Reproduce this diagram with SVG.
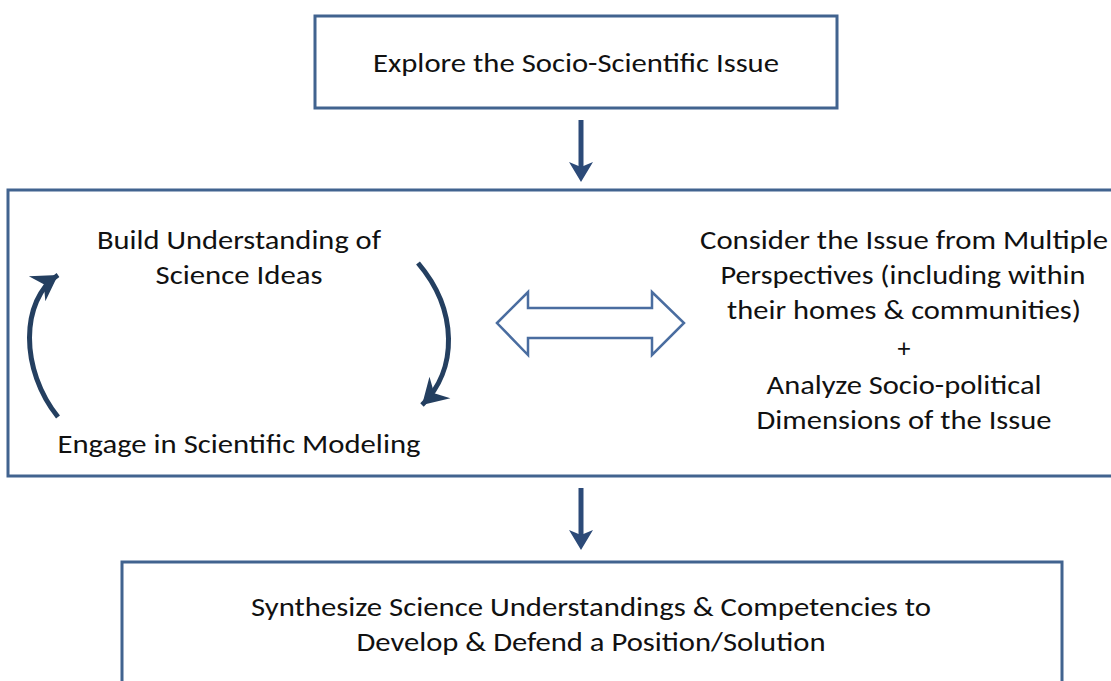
<svg xmlns="http://www.w3.org/2000/svg" width="1111" height="681" viewBox="0 0 1111 681">
<style>
.box{fill:#fff;stroke:#41638f;stroke-width:3}
.t{font-family:Carlito,Lato,"Liberation Sans",sans-serif;font-size:26px;fill:#111;text-anchor:middle}
.cyc{fill:none;stroke:#243f60;stroke-width:5}
.down{stroke:#2c4a78;stroke-width:5}
</style>
<defs>
<marker id="head" markerUnits="userSpaceOnUse" markerWidth="28" markerHeight="32" viewBox="0 0 28 32" refX="25" refY="16" orient="auto">
<path d="M0,1 L25,16 L0,31 L8,16 z" fill="#243f60"/>
</marker>
</defs>
<rect width="1111" height="681" fill="#fff"/>
<g id="node-explore">
<rect class="box" x="315" y="16" width="522" height="92"/>
<text class="t" x="576" y="72" textLength="406" lengthAdjust="spacingAndGlyphs">Explore the Socio-Scientific Issue</text>
</g>
<g id="node-middle">
<rect class="box" x="8" y="190" width="1120" height="286"/>
</g>
<g id="node-build">
<text class="t" x="239" y="249" textLength="284" lengthAdjust="spacingAndGlyphs">Build Understanding of</text>
<text class="t" x="239" y="284" textLength="167" lengthAdjust="spacingAndGlyphs">Science Ideas</text>
</g>
<g id="node-engage">
<text class="t" x="239" y="453" textLength="363" lengthAdjust="spacingAndGlyphs">Engage in Scientific Modeling</text>
</g>
<g id="node-consider">
<text class="t" x="904" y="249" textLength="408" lengthAdjust="spacingAndGlyphs">Consider the Issue from Multiple</text>
<text class="t" x="903" y="284" textLength="365" lengthAdjust="spacingAndGlyphs">Perspectives (including within</text>
<text class="t" x="904" y="319" textLength="354" lengthAdjust="spacingAndGlyphs">their homes &amp; communities)</text>
<text class="t" x="904" y="357">+</text>
<text class="t" x="904" y="394" textLength="275" lengthAdjust="spacingAndGlyphs">Analyze Socio-political</text>
<text class="t" x="904" y="429" textLength="295" lengthAdjust="spacingAndGlyphs">Dimensions of the Issue</text>
</g>
<g id="node-synthesize">
<rect class="box" x="122" y="562" width="940" height="140"/>
<text class="t" x="591" y="616" textLength="680" lengthAdjust="spacingAndGlyphs">Synthesize Science Understandings &amp; Competencies to</text>
<text class="t" x="591" y="651" textLength="469" lengthAdjust="spacingAndGlyphs">Develop &amp; Defend a Position/Solution</text>
</g>
<g id="connectors">
<line class="down" x1="581" y1="120" x2="581" y2="168"/>
<polygon points="569,162 581,167 593,162 581,182" fill="#2c4a78"/>
<line class="down" x1="581" y1="488" x2="581" y2="536"/>
<polygon points="569,530 581,535 593,530 581,550" fill="#2c4a78"/>
<path class="cyc" d="M58,417 C20,370 20,300 58,275" marker-end="url(#head)"/>
<path class="cyc" d="M418,263 C458,310 458,370 422,405" marker-end="url(#head)"/>
<polygon points="497,323 528,292 528,308 652,308 652,292 684,323 652,355 652,338 528,338 528,355" fill="#fff" stroke="#4a6da0" stroke-width="2.5" stroke-linejoin="miter"/>
</g>
</svg>
